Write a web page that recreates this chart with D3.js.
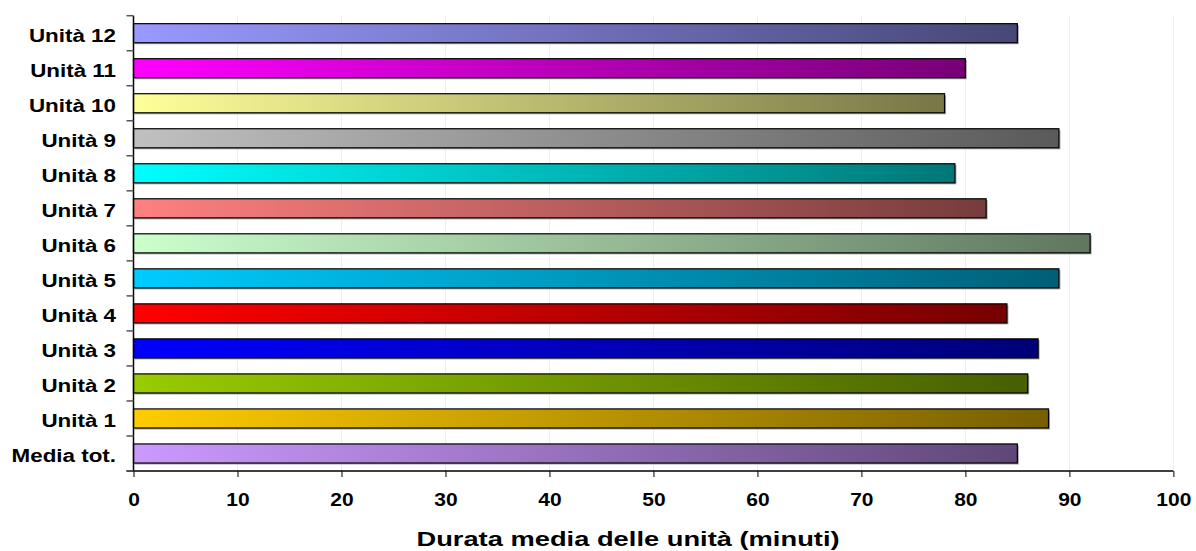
<!DOCTYPE html>
<html>
<head>
<meta charset="utf-8">
<script src="https://cdn.jsdelivr.net/npm/d3@7"></script>
<style>
  html, body { margin: 0; padding: 0; background: #fff; }
  svg { display: block; }
  text { font-family: "Liberation Sans", Arial, sans-serif; font-weight: bold; fill: #000; }
</style>
</head>
<body>
<svg id="chart" width="1196" height="551"></svg>
<script>
// ---- data ----
const categories = ["Unità 12", "Unità 11", "Unità 10", "Unità 9", "Unità 8", "Unità 7", "Unità 6",
                    "Unità 5", "Unità 4", "Unità 3", "Unità 2", "Unità 1", "Media tot."];
const values = [85, 80, 78, 89, 79, 82, 92, 89, 84, 87, 86, 88, 85];
const startColors = ["#9999ff", "#ff00ff", "#ffff99", "#c0c0c0", "#00ffff", "#ff8080", "#ccffcc",
                     "#00ccff", "#ff0000", "#0000ff", "#99cc00", "#ffcc00", "#cc99ff"];
const endColors = ["#474777", "#770077", "#777747", "#5a5a5a", "#007777", "#773c3c", "#5f775f",
                   "#005f77", "#770000", "#000077", "#475f00", "#775f00", "#5f4777"];
const xTicks = [0, 10, 20, 30, 40, 50, 60, 70, 80, 90, 100];
const xTitle = "Durata media delle unità (minuti)";

// ---- layout ----
const svg = d3.select("#chart");
const plot = { left: 133.5, right: 1173.3, top: 15.7, bottom: 471 };

const x = d3.scaleLinear().domain([0, 100]).range([plot.left, plot.right]);
const y = d3.scaleBand().domain(categories).range([plot.top, plot.bottom])
            .paddingInner(0.455).paddingOuter(0.2275);

// gradients
const defs = svg.append("defs");
categories.forEach((c, i) => {
  const g = defs.append("linearGradient").attr("id", "grad" + i)
    .attr("x1", "0%").attr("x2", "100%").attr("y1", "0%").attr("y2", "0%");
  g.append("stop").attr("offset", "0%").attr("stop-color", startColors[i]);
  g.append("stop").attr("offset", "100%").attr("stop-color", endColors[i]);
});

// gridlines
svg.append("g").selectAll("line").data(xTicks.filter(d => d > 0)).join("line")
  .attr("x1", d => Math.round(x(d)) + 0.5).attr("x2", d => Math.round(x(d)) + 0.5)
  .attr("y1", plot.top).attr("y2", plot.bottom)
  .attr("stroke", "#ffff66").attr("stroke-width", 1);

// bars: shadow + bar
const bars = svg.append("g");
bars.selectAll("rect.shadow").data(categories).join("rect").attr("class", "shadow")
  .attr("x", x(0) + 1.5).attr("y", d => y(d) + 1.5)
  .attr("width", (d, i) => x(values[i]) - x(0)).attr("height", y.bandwidth())
  .attr("fill", "#a6a6a6");
bars.selectAll("rect.bar").data(categories).join("rect").attr("class", "bar")
  .attr("x", x(0)).attr("y", d => y(d))
  .attr("width", (d, i) => x(values[i]) - x(0)).attr("height", y.bandwidth())
  .attr("fill", (d, i) => `url(#grad${i})`)
  .attr("stroke", "#000").attr("stroke-width", 1.2);

// x axis
const xAxis = d3.axisBottom(x).tickValues(xTicks).tickSize(6).tickSizeOuter(0).tickFormat(d3.format("d"));
const gx = svg.append("g").attr("transform", `translate(0,${plot.bottom})`).call(xAxis);
gx.select(".domain").remove();
gx.append("line").attr("x1", plot.left - 7).attr("x2", plot.right).attr("y1", 0).attr("y2", 0)
  .attr("stroke", "#000").attr("stroke-width", 1.5);
gx.selectAll(".tick line").attr("stroke", "#555").attr("stroke-width", 1.5);
gx.selectAll(".tick text").attr("y", 0).attr("dy", 0)
  .attr("font-size", 17.5).attr("text-anchor", "middle")
  .attr("transform", "translate(0,34.5) scale(1.2,1)");

// y axis: ticks at band boundaries
const boundaries = d3.range(categories.length + 1).map(i => plot.top + i * (plot.bottom - plot.top) / categories.length);
const gy = svg.append("g");
gy.append("line").attr("x1", plot.left).attr("x2", plot.left).attr("y1", plot.top).attr("y2", plot.bottom)
  .attr("stroke", "#000").attr("stroke-width", 1.5);
gy.selectAll("line.t").data(boundaries).join("line").attr("class", "t")
  .attr("x1", plot.left - 7).attr("x2", plot.left).attr("y1", d => d).attr("y2", d => d)
  .attr("stroke", "#555").attr("stroke-width", 1.5);
gy.selectAll("text").data(categories).join("text")
  .attr("text-anchor", "end").attr("font-size", 17.5)
  .attr("transform", d => `translate(116,${y(d) + y.bandwidth() / 2 + 9}) scale(1.28,1)`)
  .text(d => d);

// x title
svg.append("text").attr("text-anchor", "middle").attr("font-size", 19.5)
  .attr("transform", `translate(628,545.5) scale(1.4,1)`)
  .text(xTitle);
</script>
</body>
</html>
